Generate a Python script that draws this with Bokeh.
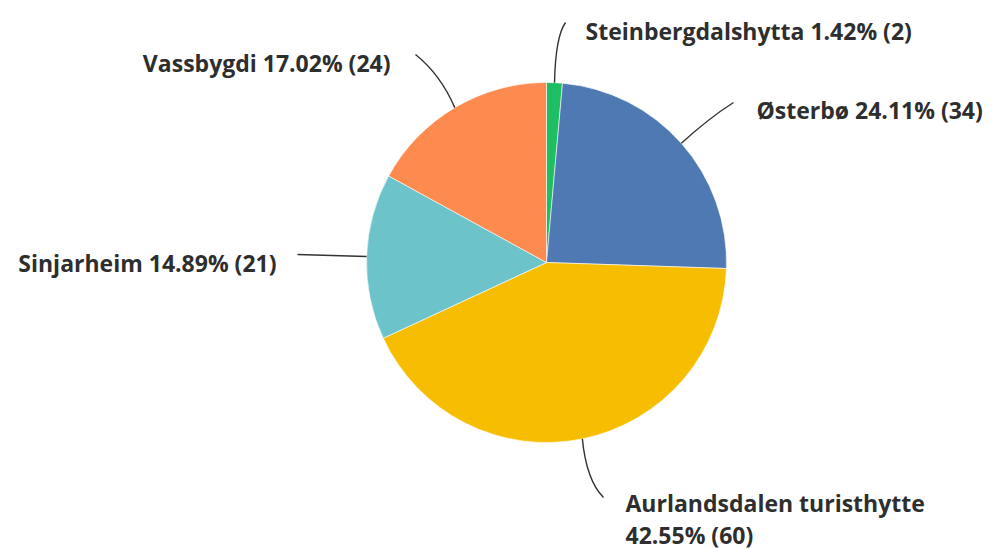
import math
from bokeh.plotting import figure
from bokeh.models import Range1d, ColumnDataSource
from bokeh.core.properties import value
from bokeh.embed import file_html
from bokeh.resources import INLINE

# Data (clockwise from 12 o'clock)
names = ["Steinbergdalshytta", "Østerbø", "Aurlandsdalen turisthytte", "Sinjarheim", "Vassbygdi"]
counts = [2, 34, 60, 21, 24]
colors = ["#1DBF62", "#4E79B3", "#F7BD00", "#6CC4CA", "#FD8A4E"]

W, H = 992, 549


def Y(sy):
    return 549 - sy


p = figure(width=W, height=H, x_range=Range1d(0, W), y_range=Range1d(549 - H, 549),
           output_backend="svg", toolbar_location=None, min_border=0)
p.axis.visible = False
p.grid.visible = False
p.outline_line_color = None
p.background_fill_color = "white"
p.border_fill_color = "white"

CX, CY, R = 546, Y(262), 180
total = sum(counts)
fracs = [c / total for c in counts]
starts, ends, mids = [], [], []
acc = 0.0
for f in fracs:
    starts.append(math.pi / 2 - 2 * math.pi * acc)
    mids.append(math.pi / 2 - 2 * math.pi * (acc + f / 2))
    acc += f
    ends.append(math.pi / 2 - 2 * math.pi * acc)

src = ColumnDataSource(dict(start=starts, end=ends, color=colors))
p.wedge(x=CX, y=CY, radius=R, radius_units="screen", start_angle="start", end_angle="end",
        direction="clock", fill_color="color", line_color="white", line_width=0.6, source=src)

# Label layout (screen px): end of leader, control point, text anchor, alignment
layout = [
    dict(end=(565, 22), ctrl=(555, 36), tx=585, ty=30, align="left"),
    dict(end=(733, 102), ctrl=(708, 118), tx=756, ty=109, align="left"),
    dict(end=(603, 497), ctrl=(586, 480), tx=625, ty=518, align="left"),
    dict(end=(297, 254), ctrl=(330, 255), tx=276, ty=262, align="right"),
    dict(end=(415, 54), ctrl=(440, 74), tx=390, ty=62, align="right"),
]

x0, y0, x1, y1, qx, qy = [], [], [], [], [], []
for m, lay in zip(mids, layout):
    x0.append(CX + R * math.cos(m))
    y0.append(CY + R * math.sin(m))
    x1.append(lay["end"][0])
    y1.append(Y(lay["end"][1]))
    qx.append(lay["ctrl"][0])
    qy.append(Y(lay["ctrl"][1]))
p.quadratic(**{"x0": x0, "y0": y0, "x1": x1, "y1": y1, "cx": qx, "cy": qy},
            line_color="#333333", line_width=1.4)

for n, c, f, lay in zip(names, counts, fracs, layout):
    pct = f"{f * 100:.2f}% ({c})"
    txt = f"{n}\n{pct}" if n.startswith("Aurlandsdalen") else f"{n} {pct}"
    p.text(x=[lay["tx"]], y=[Y(lay["ty"])], text=[txt], text_font=value("Open Sans"),
           text_font_size="23px", text_font_style="bold", text_color="#2E2E2E",
           text_align=lay["align"], text_baseline="middle", text_line_height=1.0)

open("out.html", "w").write(file_html(p, INLINE))
